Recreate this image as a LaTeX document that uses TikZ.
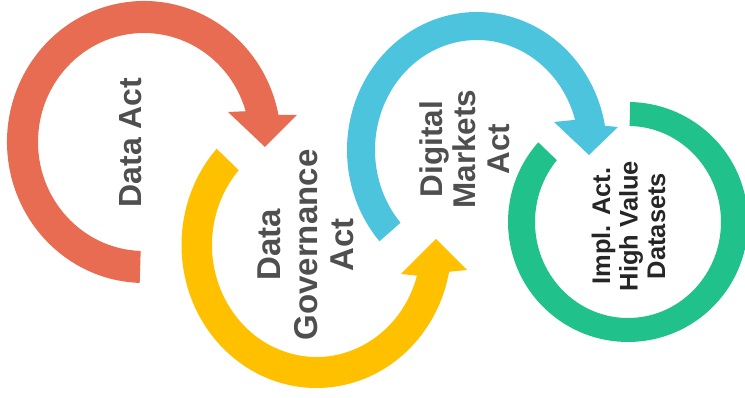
\documentclass[tikz,border=0pt]{standalone}
\usepackage{fontspec}
\setmainfont{Liberation Sans}
\definecolor{ringred}{HTML}{E86C52}
\definecolor{ringyellow}{HTML}{FFC000}
\definecolor{ringblue}{HTML}{4CC4DE}
\definecolor{ringgreen}{HTML}{21C18B}
\definecolor{labelgray}{HTML}{4F4F4F}
\definecolor{labeldark}{HTML}{262626}
\begin{document}
\begin{tikzpicture}[x=0.02cm,y=-0.02cm,
  lbl/.style={rotate=90, align=center, inner sep=0pt, text=labelgray}]
\useasboundingbox (0,0) rectangle (745,398);
\clip (0,0) rectangle (745,398);

% centres of the four circular arrows
\coordinate (rc) at (144,142);
\coordinate (yc) at (316.5,245);
\coordinate (bc) at (477,150);
\coordinate (gc) at (628,222);

% red arrow: tail at the bottom, head pointing down at the right
\fill[ringred] ([shift={(-11.1:137 and 141)}]rc)
  arc[start angle=-11.1, end angle=-268.2, x radius=137, y radius=141]
  -- ([shift={(-268.2:106 and 109)}]rc)
  arc[start angle=-268.2, end angle=-16.4, x radius=106, y radius=109]
  -- (228,112) -- (265,147) -- (297,115) -- cycle;

% yellow arrow: tail at the upper left, head pointing up at the right
\fill[ringyellow] ([shift={(222.3:135 and 143)}]yc)
  arc[start angle=222.3, end angle=10.8, x radius=135, y radius=143]
  -- (467,270) -- (436,239) -- (401,274)
  -- ([shift={(15.9:104.5 and 112)}]yc)
  arc[start angle=15.9, end angle=221.9, x radius=104.5, y radius=112]
  -- cycle;

% blue arrow: tail at the lower left, head pointing down at the right
\fill[ringblue] ([shift={(138.6:130 and 138)}]bc)
  arc[start angle=138.6, end angle=349.9, x radius=130, y radius=138]
  -- (618,127) -- (589,155) -- (554,122)
  -- ([shift={(344.1:102 and 110)}]bc)
  arc[start angle=344.1, end angle=138.6, x radius=102, y radius=110]
  -- cycle;

% green open ring
\fill[ringgreen] ([shift={(221.6:120 and 120)}]gc)
  arc[start angle=221.6, end angle=-89, x radius=120, y radius=120]
  -- ([shift={(-89:93 and 96)}]gc)
  arc[start angle=-89, end angle=220.1, x radius=93, y radius=96]
  -- cycle;

% labels
\node[lbl, font=\fontsize{18.2}{20}\selectfont\bfseries] (dataact) at (130.5,142.5) {Data Act};
\node[lbl, font=\fontsize{18.8}{20.8}\selectfont\bfseries] (dga) at (306,245) {Data\\Governance\\Act};
\node[lbl, font=\fontsize{17.9}{19.1}\selectfont\bfseries] (dma) at (464.5,149) {Digital\\Markets\\Act};
\node[lbl, text=labeldark, font=\fontsize{14.5}{15.6}\selectfont\bfseries] (hvd) at (628.5,226) {Impl. Act.\\High Value\\Datasets};
\end{tikzpicture}
\end{document}
